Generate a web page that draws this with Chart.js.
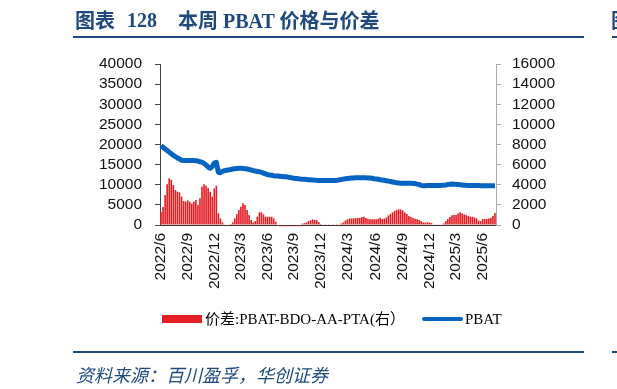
<!DOCTYPE html>
<html>
<head>
<meta charset="utf-8">
<script src="https://cdn.jsdelivr.net/npm/chart.js@4/dist/chart.umd.min.js"></script>
<style>
  html, body { margin: 0; padding: 0; background: #fff; width: 617px; height: 389px; overflow: hidden; position: relative; }
  #c { position: absolute; left: 0; top: 0; }
  .t { position: absolute; white-space: nowrap; color: #1F497D; font-weight: bold; font-size: 20px; line-height: 20px; font-family: "Liberation Serif", "Noto Sans CJK SC", serif; }
  .rule { position: absolute; height: 2px; background: #1F497D; }
  .src { position: absolute; left: 76px; top: 364px; white-space: nowrap; color: #1F497D; font-size: 18px; line-height: 20px; font-style: italic; font-family: "Noto Sans CJK SC", sans-serif; }
  .lg { position: absolute; white-space: nowrap; color: #000; font-size: 15px; line-height: 16px; font-family: "Liberation Serif", "Noto Sans CJK SC", serif; }
</style>
</head>
<body>
<canvas id="c" width="617" height="389"></canvas>

<div class="t" style="left:75px;top:10px;font-family:'Noto Sans CJK SC',sans-serif;">图表</div>
<div class="t" style="left:127px;top:10px;">128</div>
<div class="t" style="left:178px;top:10px;"><span style="font-family:'Noto Sans CJK SC',sans-serif;">本周</span> PBAT <span style="font-family:'Noto Sans CJK SC',sans-serif;">价格与价差</span></div>
<div class="t" style="left:611px;top:10px;font-family:'Noto Sans CJK SC',sans-serif;">图</div>
<div class="rule" style="left:73px;top:36px;width:511px;"></div>
<div class="rule" style="left:612px;top:36px;width:10px;"></div>

<div style="position:absolute;left:162px;top:315px;width:40px;height:8px;background:#E31E24;"></div>
<div class="lg" style="left:205px;top:311px;">价差:PBAT-BDO-AA-PTA(右）</div>
<div style="position:absolute;left:422px;top:317px;width:41px;height:4px;border-radius:2px;background:#0563C1;"></div>
<div class="lg" style="left:465px;top:311px;">PBAT</div>

<div class="rule" style="left:73px;top:351px;width:511px;"></div>
<div class="rule" style="left:612px;top:351px;width:10px;"></div>
<div class="src">资料来源：百川盈孚，华创证券</div>

<script>
// ---- data (weekly, from 2022-06-03) ----
const startDate = '2022-06-03';
const weekCount = 164;
const tickLabels = ['2022/6','2022/9','2022/12','2023/3','2023/6','2023/9','2023/12','2024/3','2024/6','2024/9','2024/12','2025/3','2025/6'];

// 价差: PBAT-BDO-AA-PTA (right axis)
const spreadValues = [
  1300, 1800, 2980, 4040, 4640, 4480, 3950, 3480, 3310, 3250,
  2820, 2390, 2320, 2450, 2320, 2120, 2320, 2490, 1990, 2650,
  3810, 4040, 3910, 3640, 3310, 2820, 3640, 3910, 1160, 660,
  260, 0, -100, -100, 100, 260, 660, 1060, 1490, 1820,
  2150, 1990, 1490, 990, 490, 260, 390, 820, 1260, 1260,
  1060, 820, 820, 820, 820, 660, 330, -100, -120, -120,
  -120, -120, -120, -120, -120, -120, -120, -120, -120, 130,
  200, 260, 390, 450, 560, 520, 490, 300, 100, 50,
  30, 40, 20, 50, 30, 40, 20, 50, 150, 260,
  450, 560, 640, 660, 660, 680, 700, 720, 780, 820,
  700, 620, 580, 560, 560, 560, 620, 720, 590, 650,
  750, 950, 1100, 1260, 1400, 1500, 1560, 1540, 1440, 1250,
  1100, 900, 800, 700, 620, 560, 490, 380, 260, 260,
  260, 260, 200, 60, 60, 60, 60, 60, 150, 390,
  600, 800, 960, 990, 990, 1150, 1260, 1150, 1050, 980,
  900, 820, 820, 750, 660, 450, 390, 590, 590, 600,
  650, 720, 900, 1200
];

// PBAT price (left axis)
const pbatValues = [
  19700, 19300, 18900, 18500, 18100, 17700, 17300, 17000, 16700, 16400,
  16100, 16000, 16000, 16050, 16050, 16050, 16000, 15950, 15900, 15700,
  15600, 15300, 14900, 14400, 14100, 14500, 15400, 15600, 13100, 13000,
  13300, 13500, 13600, 13700, 13800, 13900, 14000, 14050, 14100, 14100,
  14050, 14000, 13900, 13800, 13700, 13500, 13400, 13300, 13200, 13100,
  12900, 12700, 12500, 12400, 12350, 12250, 12200, 12150, 12100, 12050,
  12000, 11980, 11900, 11800, 11700, 11600, 11550, 11500, 11420, 11380,
  11350, 11300, 11250, 11230, 11200, 11150, 11100, 11070, 11050, 11050,
  11050, 11050, 11050, 11050, 11050, 11050, 11100, 11200, 11300, 11400,
  11500, 11550, 11600, 11650, 11700, 11720, 11730, 11730, 11730, 11720,
  11720, 11700, 11650, 11600, 11500, 11450, 11350, 11250, 11200, 11100,
  11000, 10900, 10800, 10700, 10600, 10500, 10450, 10400, 10400, 10400,
  10380, 10350, 10350, 10340, 10300, 10150, 10050, 9850, 9750, 9780,
  9800, 9800, 9800, 9820, 9830, 9840, 9840, 9850, 9900, 9950,
  10050, 10100, 10170, 10150, 10100, 10050, 10000, 9950, 9900, 9850,
  9840, 9830, 9820, 9800, 9800, 9800, 9780, 9780, 9780, 9780,
  9760, 9760, 9750, 9750
];

// weekly category dates
const categories = [];
{
  const d0 = new Date(startDate + 'T00:00:00Z');
  for (let i = 0; i < weekCount; i++) {
    const d = new Date(d0.getTime() + i * 7 * 86400000);
    categories.push(d.getUTCFullYear() + '/' + (d.getUTCMonth() + 1) + '/' + d.getUTCDate());
  }
}

function quarterLabel(i) {
  if (typeof i !== 'number' || i < 0 || i >= categories.length) return null;
  const p = categories[i].split('/');
  const ym = p[0] + '/' + p[1];
  if (i > 0) {
    const q = categories[i - 1].split('/');
    if (q[0] + '/' + q[1] === ym) return null;
  }
  return tickLabels.includes(ym) ? ym : null;
}

const tickFont = { family: "'Liberation Sans', Arial, sans-serif", size: 15.5 };
const yTickFont = { family: "'Liberation Sans', Arial, sans-serif", size: 15.5, lineHeight: 0.9 };

new Chart(document.getElementById('c'), {
  data: {
    labels: categories,
    datasets: [
      {
        type: 'line',
        label: 'PBAT',
        data: pbatValues,
        yAxisID: 'y',
        borderColor: '#0563C1',
        borderWidth: 5,
        pointRadius: 0,
        tension: 0,
        borderJoinStyle: 'round',
        order: 0
      },
      {
        type: 'bar',
        label: '价差:PBAT-BDO-AA-PTA(右）',
        data: spreadValues,
        yAxisID: 'y1',
        backgroundColor: '#E31E24',
        barPercentage: 0.8,
        categoryPercentage: 1.0,
        clip: { left: 0, top: 0, right: 0, bottom: 3 },
        order: 1
      }
    ]
  },
  options: {
    responsive: false,
    animation: false,
    layout: { padding: { top: 64, left: 0, right: 0, bottom: 0 } },
    plugins: { legend: { display: false }, tooltip: { enabled: false } },
    scales: {
      x: {
        type: 'category',
        offset: true,
        grid: {
          offset: true,
          drawOnChartArea: false,
          drawTicks: true,
          tickLength: 5,
          color: (ctx) => (quarterLabel(ctx.index) ? '#222' : 'rgba(0,0,0,0)')
        },
        border: { display: true, color: '#333', width: 1 },
        ticks: {
          autoSkip: false,
          maxRotation: 90,
          minRotation: 90,
          padding: 3,
          color: '#111',
          font: tickFont,
          callback: (v, i) => quarterLabel(i)
        },
        afterFit: (s) => { s.height = 164; }
      },
      y: {
        position: 'left',
        min: 0,
        max: 40000,
        grid: { drawOnChartArea: false, drawTicks: true, tickLength: 5, color: '#444' },
        border: { display: true, color: '#444', width: 1 },
        ticks: { stepSize: 5000, maxTicksLimit: 20, autoSkip: false, padding: 13, color: '#111', font: yTickFont, callback: (v) => String(v) },
        afterFit: (s) => { s.width = 160; }
      },
      y1: {
        position: 'right',
        min: 0,
        max: 16000,
        grid: { drawOnChartArea: false, drawTicks: true, tickLength: 5, color: '#aaa' },
        border: { display: true, color: '#aaa', width: 1 },
        ticks: { stepSize: 2000, maxTicksLimit: 20, autoSkip: false, padding: 11, color: '#111', font: yTickFont, callback: (v) => String(v) },
        afterFit: (s) => { s.width = 121; }
      }
    }
  }
});
</script>
</body>
</html>
